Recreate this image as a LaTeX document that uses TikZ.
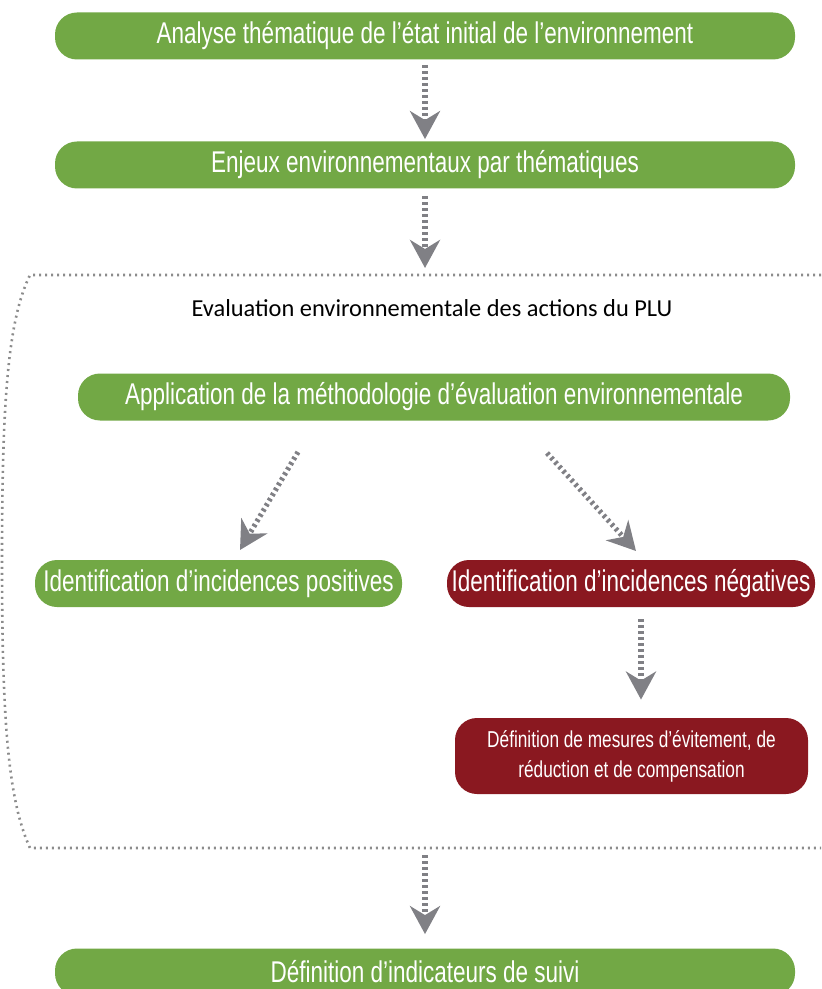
\documentclass[tikz,border=0pt]{standalone}
\usepackage{fontspec}
\setmainfont{Liberation Sans}[FakeStretch=0.75]
\newfontfamily\titrefont{Carlito}
\usetikzlibrary{arrows.meta}
\usetikzlibrary{positioning}
\definecolor{vertpl}{RGB}{114,168,69}
\definecolor{rougepl}{RGB}{138,24,32}
\definecolor{grisfl}{RGB}{128,128,133}
\definecolor{griscadre}{RGB}{140,140,140}
\begin{document}
\begin{tikzpicture}[x = 0.5pt, y = -0.5pt,
  boite/.style = {rounded corners = 11pt, text = white, inner sep = 0pt, minimum height = 23.5pt, font = \fontsize{15}{17}\selectfont},
  vert/.style = {boite, fill = vertpl},
  rouge/.style = {boite, fill = rougepl},
  fleche/.style = {grisfl, line width = 2.6pt, dash pattern = on 1.4pt off 1.6pt, -{Stealth[length = 14pt, width = 15pt, inset = 4.5pt]}}]
\useasboundingbox (0, 0) rectangle (821, 989);
% boites
\node[vert, minimum width = 370pt] (analyse) at (425, 36) {Analyse thématique de l’état initial de l’environnement};
\node[vert, minimum width = 370pt] (enjeux) at (425, 165) {Enjeux environnementaux par thématiques};
\node[vert, minimum width = 356pt] (methodo) at (434, 397) {Application de la méthodologie d’évaluation environnementale};
\node[vert, minimum width = 183.5pt] (positives) at (218.5, 583.5) {Identification d’incidences positives};
\node[rouge, minimum width = 184pt] (negatives) at (631, 583.5) {Identification d’incidences négatives};
\node[rouge, minimum width = 176.5pt, minimum height = 38pt, align = center, font = \fontsize{11.5}{15}\selectfont] (mesures) at (631.5, 756) {Définition de mesures d’évitement, de\\réduction et de compensation};
\node[vert, minimum width = 370pt] (indicateurs) at (425, 972) {Définition d’indicateurs de suivi};
% cadre
\draw[griscadre, line width = 1.3pt, dash pattern = on 1pt off 2pt] (821, 275) -- (30, 275) .. controls (8, 320) and (2, 400) .. (2, 560) .. controls (2, 720) and (8, 800) .. (30, 848) -- (821, 848);
\node[font = \titrefont\fontsize{12.2}{14}\selectfont] (titre) at (432, 308) {Evaluation environnementale des actions du PLU};
\coordinate (cadrehaut) at (425, 275);
\coordinate (cadrebas) at (425, 848);
\coordinate (diagA) at (298, 452);
\coordinate (diagAfin) at (240, 550);
\coordinate (diagB) at (547, 453);
\coordinate (diagBfin) at (636, 551);
\coordinate (colonne) at (641, 0);
% fleches
\draw[fleche, shorten <= 2.5pt, shorten >= 1pt] (analyse) -- (enjeux);
\draw[fleche, shorten <= 3.5pt, shorten >= 3.5pt] (enjeux) -- (cadrehaut);
\draw[fleche] (diagA) -- (diagAfin);
\draw[fleche] (diagB) -- (diagBfin);
\draw[fleche, shorten <= 6pt, shorten >= 9pt] (negatives.south -| colonne) -- (mesures.north -| colonne);
\draw[fleche, shorten <= 3.5pt, shorten >= 7pt] (cadrebas) -- (indicateurs);
\end{tikzpicture}
\end{document}
